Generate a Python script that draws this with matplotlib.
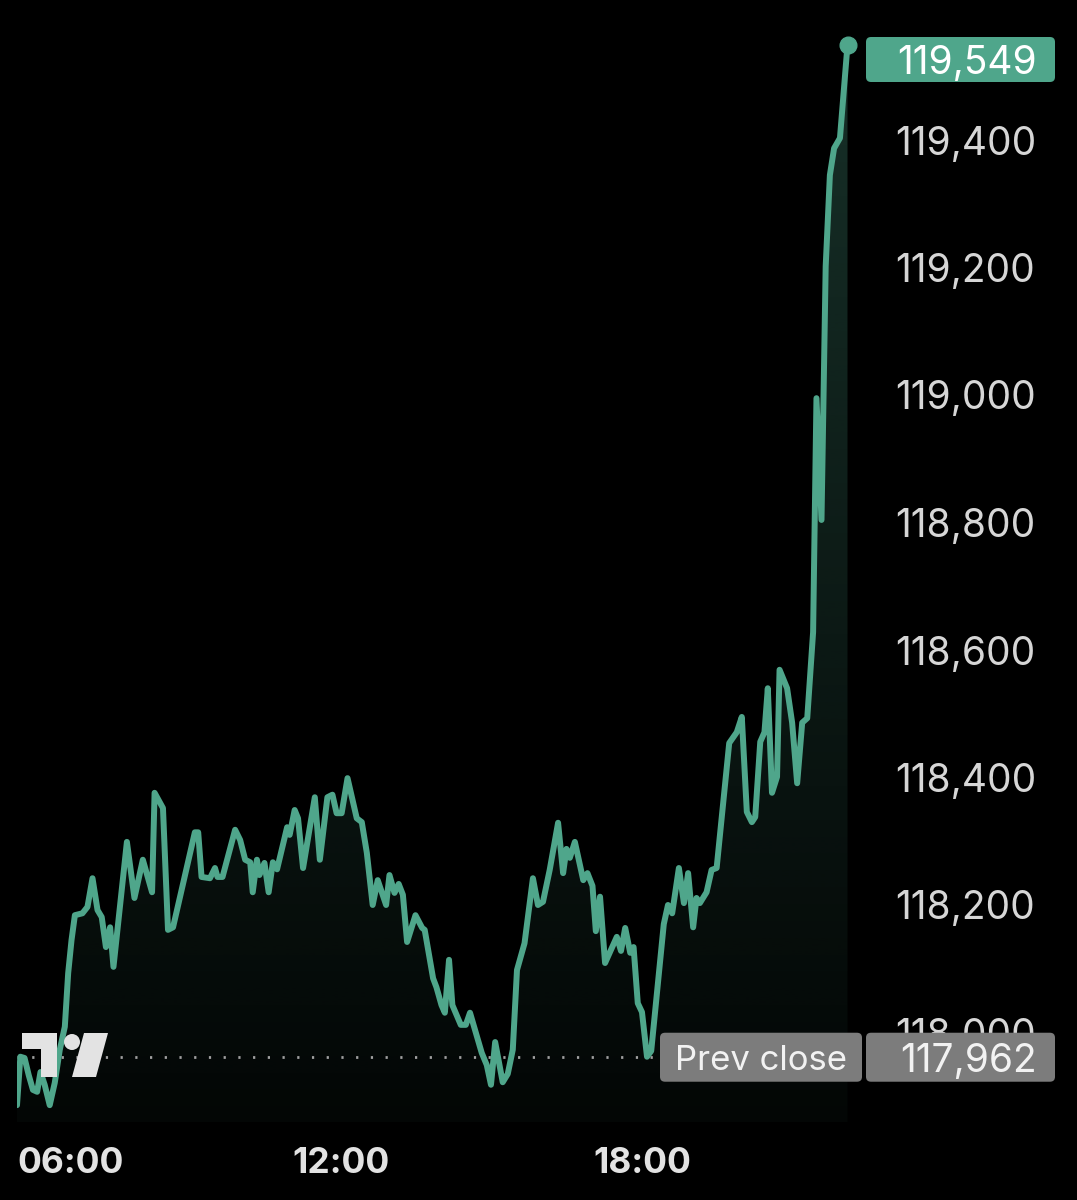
import matplotlib
matplotlib.use("Agg")
import matplotlib.pyplot as plt
import matplotlib.transforms as mtransforms
from matplotlib.patches import FancyBboxPatch, Polygon, Circle
import numpy as np

# ---------------- data ----------------
times = [
    "05:34", "05:38", "05:43", "05:48", "05:53", "05:58", "06:02", "06:07", "06:13", "06:19",
    "06:25", "06:31", "06:35", "06:39", "06:43", "06:52", "06:58", "07:04", "07:10", "07:15",
    "07:20", "07:25", "07:29", "07:45", "07:54", "08:04", "08:15", "08:18", "08:28", "08:34",
    "08:40", "09:06", "09:10", "09:14", "09:24", "09:30", "09:33", "09:39", "09:54", "10:00",
    "10:06", "10:12", "10:15", "10:20", "10:23", "10:29", "10:34", "10:39", "10:44", "10:56",
    "10:59", "11:05", "11:09", "11:15", "11:29", "11:35", "11:44", "11:50", "11:55", "12:01",
    "12:08", "12:19", "12:25", "12:31", "12:38", "12:44", "12:54", "12:58", "13:04", "13:09",
    "13:14", "13:19", "13:29", "13:37", "13:40", "13:50", "13:54", "14:00", "14:04", "14:09",
    "14:13", "14:23", "14:29", "14:34", "14:48", "14:54", "14:59", "15:04", "15:13", "15:19",
    "15:25", "15:30", "15:36", "15:39", "15:49", "15:55", "16:01", "16:09", "16:19", "16:25",
    "16:29", "16:33", "16:39", "16:49", "16:54", "17:00", "17:04", "17:09", "17:15", "17:29",
    "17:34", "17:39", "17:45", "17:49", "17:54", "17:59", "18:05", "18:10", "18:25", "18:30",
    "18:35", "18:43", "18:49", "18:54", "19:00", "19:04", "19:08", "19:16", "19:22", "19:28",
    "19:43", "19:52", "19:58", "20:04", "20:10", "20:14", "20:20", "20:25", "20:29", "20:34",
    "20:40", "20:43", "20:52", "20:58", "21:04", "21:10", "21:16", "21:23", "21:27", "21:33",
    "21:38", "21:43", "21:48", "21:55", "22:04",
]
prices = [
    117886, 117962, 117960, 117933, 117910, 117907, 117938, 117918, 117886, 117921,
    117973, 118009, 118093, 118145, 118184, 118187, 118197, 118242, 118192, 118181,
    118134, 118165, 118103, 118299, 118211, 118271, 118220, 118376, 118352, 118161,
    118165, 118314, 118314, 118244, 118242, 118258, 118244, 118244, 118318, 118302,
    118271, 118267, 118220, 118271, 118247, 118266, 118220, 118267, 118256, 118322,
    118310, 118349, 118336, 118258, 118369, 118271, 118369, 118373, 118344, 118344,
    118399, 118336, 118330, 118282, 118200, 118239, 118200, 118247, 118219, 118233,
    118216, 118142, 118184, 118164, 118161, 118085, 118071, 118043, 118031, 118114,
    118043, 118012, 118012, 118031, 117968, 117949, 117918, 117985, 117922, 117935,
    117973, 118098, 118126, 118140, 118242, 118200, 118205, 118255, 118329, 118250,
    118288, 118274, 118299, 118239, 118250, 118230, 118159, 118213, 118109, 118150,
    118128, 118164, 118125, 118134, 118046, 118032, 117962, 117971, 118170, 118200,
    118187, 118258, 118203, 118250, 118165, 118211, 118203, 118220, 118255, 118258,
    118454, 118471, 118495, 118346, 118330, 118338, 118456, 118471, 118540, 118376,
    118401, 118569, 118540, 118486, 118391, 118486, 118493, 118628, 118995, 118804,
    119202, 119345, 119387, 119403, 119549,
]
prev_close = 117962
last_price = 119549
y_ticks = [118000, 118200, 118400, 118600, 118800, 119000, 119200, 119400]
x_tick_labels = ["06:00", "12:00", "18:00"]
prev_label = "Prev close"

# ---------------- style ----------------
plt.rcParams["font.family"] = ["Inter", "DejaVu Sans"]
plt.rcParams["lines.scale_dashes"] = False

GREEN = "#4fa68b"
BG = "#000000"
W, H, DPI = 1077, 1200, 100
NUM_SIZE = 28


def to_hours(s):
    h, m = s.split(":")
    return int(h) + int(m) / 60.0


n = min(len(times), len(prices))
x = np.array([to_hours(t) for t in times[:n]])
y = np.array(prices[:n], dtype=float)
x_ticks = [to_hours(t) for t in x_tick_labels]

fig = plt.figure(figsize=(W / DPI, H / DPI), dpi=DPI, facecolor=BG)
ax_left, ax_right, ax_top, ax_bot = 17, 858, 0, 1122
ax = fig.add_axes([ax_left / W, (H - ax_bot) / H, (ax_right - ax_left) / W, (ax_bot - ax_top) / H])
ax.set_facecolor(BG)
for s in ax.spines.values():
    s.set_visible(False)

# scale: 302 px per 6 h horizontally, 127.5 px per 200 vertically
px_per_h = 302 / 6.0
px_per_unit = 127.5 / 200.0
x0 = x[0]
x1 = x0 + (ax_right - ax_left) / px_per_h
y_top_val = 119400 + (140 - ax_top) / px_per_unit
y_bot_val = 119400 - (ax_bot - 140) / px_per_unit
ax.set_xlim(x0, x1)
ax.set_ylim(y_bot_val, y_top_val)

# gradient fill under line
poly = ax.fill_between(x, y, y_bot_val, facecolor="none", edgecolor="none")
path = poly.get_paths()[0]
grad = np.zeros((256, 1, 4))
rgb = matplotlib.colors.to_rgb(GREEN)
grad[:, 0, 0], grad[:, 0, 1], grad[:, 0, 2] = rgb
grad[:, 0, 3] = np.linspace(0.30, 0.04, 256)
im = ax.imshow(grad, extent=[x0, x1, y_bot_val, y_top_val], origin="upper",
               aspect="auto", zorder=1, interpolation="bilinear")
im.set_clip_path(path, transform=ax.transData)

# previous close dotted line
ax.axhline(prev_close, color="#a0a0a0", lw=2.0, linestyle=(0, (1.6, 9.0)), zorder=2)

# price line
ax.plot(x, y, color=GREEN, lw=4.3, solid_joinstyle="round", solid_capstyle="round", zorder=4)
ax.plot([x[-1]], [y[-1]], "o", ms=12, color=GREEN, zorder=5)

# axes ticks
ax.yaxis.tick_right()
ax.set_yticks(y_ticks)
ax.set_yticklabels([f"{v:,}" for v in y_ticks])
ax.tick_params(axis="y", length=0, pad=27, labelsize=NUM_SIZE, labelcolor="#d6d6d6")
ax.set_xticks(x_ticks)
ax.set_xticklabels(x_tick_labels, fontweight="bold")
ax.tick_params(axis="x", length=0, pad=18, labelsize=25.5, labelcolor="#e2e2e2")
# first time label is pushed in so it starts at the chart's left edge
first = ax.get_xticklabels()[0]
first.set_horizontalalignment("left")
shift = -(x_ticks[0] - x0) * px_per_h
first.set_transform(first.get_transform() + mtransforms.ScaledTranslation(shift / DPI, 0, fig.dpi_scale_trans))

# ---------------- figure-level overlays (pixel positions, top origin) ----------------
T = fig.dpi_scale_trans


def P(px, py):
    return (px / DPI, (H - py) / DPI)


def box(xl, xr, yc, h, color):
    p = FancyBboxPatch(P(xl, yc + h / 2), (xr - xl) / DPI, h / DPI,
                       boxstyle="round,pad=0,rounding_size=0.05", transform=T,
                       facecolor=color, edgecolor="none")
    fig.patches.append(p)


fig.canvas.draw()
prev_py = H - ax.transData.transform((x0, prev_close))[1]

# last price box
box(866, 1055, 59.5, 45, GREEN)
fig.text(*P(1037, 59.5), f"{last_price:,}", transform=T, ha="right", va="center_baseline",
         fontsize=NUM_SIZE, color="#ffffff")

# prev close boxes
GRAY = "#7c7c7c"
box(660, 862, prev_py + 0.5, 49, GRAY)
box(866, 1055, prev_py + 0.5, 49, GRAY)
fig.text(*P(761, prev_py + 1), prev_label, transform=T, ha="center", va="center_baseline",
         fontsize=25, color="#f2f2f2")
fig.text(*P(1037, prev_py + 1), f"{prev_close:,}", transform=T, ha="right", va="center_baseline",
         fontsize=NUM_SIZE, color="#f2f2f2")

# TradingView logo
LOGO = "#e3e3e3"
tbar = Polygon([P(22, 1033), P(57, 1033), P(57, 1077), P(41, 1077), P(41, 1049), P(22, 1049)],
               closed=True, transform=T, facecolor=LOGO, edgecolor="none")
slash = Polygon([P(84, 1033), P(108, 1033), P(96, 1077), P(72, 1077)],
                closed=True, transform=T, facecolor=LOGO, edgecolor="none")
dot = Circle(P(72, 1042), 8 / DPI, transform=T, facecolor=LOGO, edgecolor="none")
fig.patches.extend([tbar, slash, dot])

fig.savefig("out.png", dpi=DPI, facecolor=BG)
